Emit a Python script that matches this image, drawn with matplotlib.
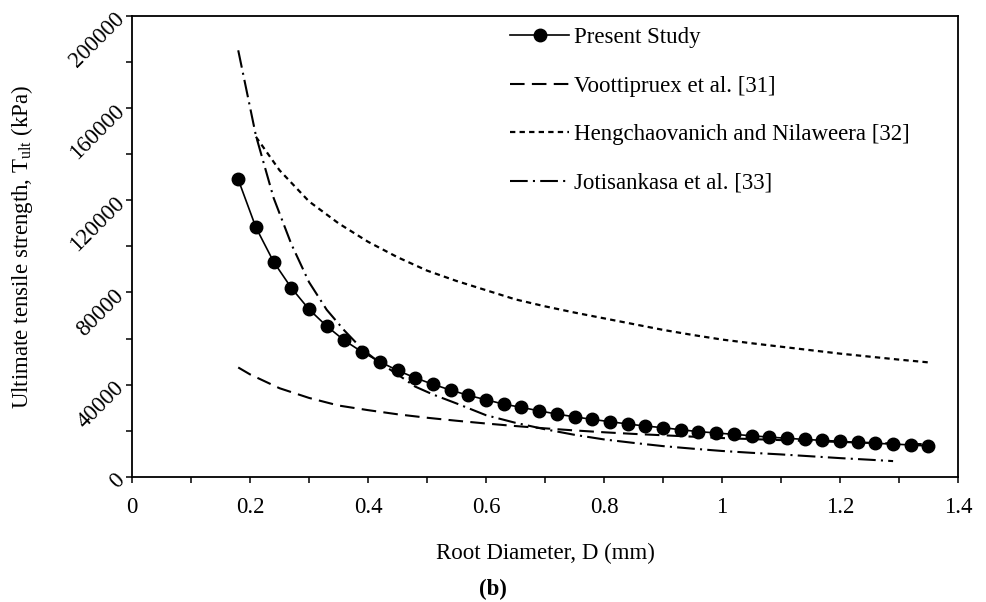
import matplotlib
matplotlib.use("Agg")
import matplotlib.pyplot as plt
from matplotlib.ticker import MultipleLocator

plt.rcParams["font.family"] = ["Liberation Serif", "DejaVu Serif"]
plt.rcParams["mathtext.fontset"] = "custom"
plt.rcParams["mathtext.rm"] = "Liberation Serif"

# Present study (markers every 0.03 mm)
d_present = [0.18, 0.21, 0.24, 0.27, 0.30, 0.33, 0.36, 0.39, 0.42, 0.45,
             0.48, 0.51, 0.54, 0.57, 0.60, 0.63, 0.66, 0.69, 0.72, 0.75,
             0.78, 0.81, 0.84, 0.87, 0.90, 0.93, 0.96, 0.99, 1.02, 1.05,
             1.08, 1.11, 1.14, 1.17, 1.20, 1.23, 1.26, 1.29, 1.32, 1.35]
t_present = [129000, 108200, 93300, 82000, 72700, 65400, 59200, 54200, 50000, 46200,
             43000, 40200, 37700, 35400, 33500, 31600, 30200, 28700, 27300, 26100,
             25000, 24000, 23000, 22100, 21400, 20500, 19700, 19100, 18500, 17900,
             17300, 16800, 16300, 15900, 15500, 15000, 14600, 14300, 13900, 13400]

# Voottipruex et al. [31]
d_voott = [0.18, 0.20, 0.25, 0.30, 0.35, 0.40, 0.45, 0.50, 0.55, 0.60, 0.65,
           0.70, 0.75, 0.80, 0.85, 0.90, 0.95, 1.00, 1.10, 1.20, 1.30, 1.35]
t_voott = [47500, 44500, 38500, 34300, 31000, 29000, 27200, 25700, 24400, 23200, 22100,
           21100, 20200, 19400, 18700, 18100, 17500, 16900, 16000, 15200, 14500, 14200]

# Hengchaovanich and Nilaweera [32]
d_heng = [0.21, 0.25, 0.30, 0.35, 0.40, 0.45, 0.50, 0.55, 0.60, 0.65, 0.70, 0.75,
          0.80, 0.85, 0.90, 0.95, 1.00, 1.05, 1.10, 1.15, 1.20, 1.25, 1.30, 1.35]
t_heng = [147500, 133000, 119500, 110000, 102000, 95300, 89500, 85000, 81000, 77000,
          74000, 71300, 68800, 66300, 63800, 61600, 59600, 58000, 56500, 55000,
          53500, 52200, 50900, 49700]

# Jotisankasa et al. [33]
d_joti = [0.18, 0.21, 0.24, 0.27, 0.30, 0.33, 0.36, 0.39, 0.42, 0.45, 0.48, 0.51,
          0.55, 0.60, 0.65, 0.70, 0.75, 0.80, 0.85, 0.90, 0.95, 1.00, 1.05, 1.10,
          1.15, 1.20, 1.25, 1.29]
t_joti = [185000, 148000, 121000, 101000, 84500, 72500, 63500, 55500, 49500, 44500,
          39200, 35800, 31900, 26800, 23500, 20700, 18300, 16300, 14800, 13400,
          12300, 11300, 10500, 9800, 9000, 8200, 7500, 6900]

fig = plt.figure(figsize=(9.86, 6.02), dpi=100)
ax = fig.add_axes([0.1339, 0.2076, 0.8377, 0.7663])

ax.plot(d_present, t_present, color="black", lw=1.2, marker="o", ms=9,
        label="Present Study")
ax.plot(d_voott, t_voott, color="black", lw=1.5, dashes=(7, 3.5),
        label="Voottipruex et al. [31]")
ax.plot(d_heng, t_heng, color="black", lw=1.6, dashes=(2.4, 1.9),
        label="Hengchaovanich and Nilaweera [32]")
ax.plot(d_joti, t_joti, color="black", lw=1.5, dashes=(8.5, 2.5, 1, 2.5),
        label="Jotisankasa et al. [33]")

ax.set_xlim(0, 1.4)
ax.set_ylim(0, 200000)
ax.xaxis.set_minor_locator(MultipleLocator(0.1))
ax.yaxis.set_major_locator(MultipleLocator(40000))
ax.yaxis.set_minor_locator(MultipleLocator(20000))
ax.set_xticks([0, 0.2, 0.4, 0.6, 0.8, 1.0, 1.2, 1.4])
ax.set_xticklabels(["0", "0.2", "0.4", "0.6", "0.8", "1", "1.2", "1.4"])

for s in ax.spines.values():
    s.set_linewidth(1.3)
ax.tick_params(which="both", direction="out", length=4.5, width=1.1, labelsize=16.5)
ax.tick_params(axis="x", pad=10)
for lab in ax.get_yticklabels():
    lab.set_rotation(45)
    lab.set_ha("right")
    lab.set_va("center")
    lab.set_rotation_mode("anchor")

ax.set_xlabel("Root Diameter, D (mm)", fontsize=16.5, labelpad=18)
ax.set_ylabel(r"Ultimate tensile strength, T$_{\mathrm{ult}}$ (kPa)", fontsize=16.5,
              labelpad=22)

leg = fig.legend(loc="upper left", bbox_to_anchor=(0.517, 0.955), frameon=False,
                 fontsize=16.5, handlelength=2.6, handletextpad=0.2, labelspacing=1.2,
                 borderpad=0, borderaxespad=0)

fig.text(0.5, 0.012, "(b)", fontsize=16.5, fontweight="bold", ha="center")

fig.savefig("out.png", dpi=100)
